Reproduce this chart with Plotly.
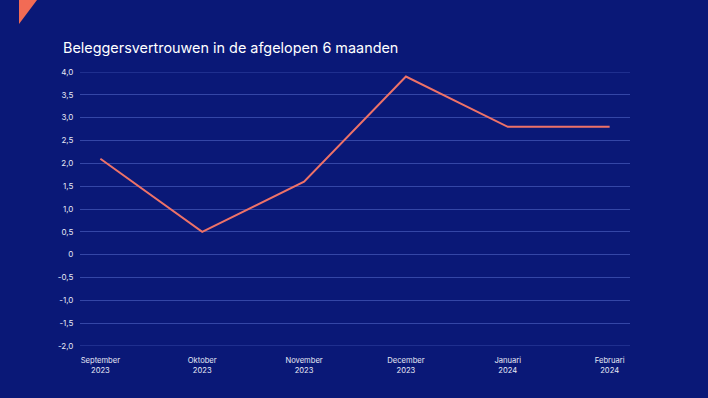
import plotly.graph_objects as go

months = ["September<br>2023", "Oktober<br>2023", "November<br>2023",
          "December<br>2023", "Januari<br>2024", "Februari<br>2024"]
values = [2.1, 0.5, 1.6, 3.9, 2.8, 2.8]
tick_vals = [-2.0, -1.5, -1.0, -0.5, 0, 0.5, 1.0, 1.5, 2.0, 2.5, 3.0, 3.5, 4.0]
tick_text = ["-2,0", "-1,5", "-1,0", "-0,5", "0", "0,5", "1,0", "1,5", "2,0", "2,5", "3,0", "3,5", "4,0"]

BG = "#0a1877"
GRID = "#3446a6"
W, H = 708, 398
ml, mr, mt, mb = 80, 78, 72, 52
pw, ph = W - ml - mr, H - mt - mb

def px(x):
    return (x - ml) / pw

def py(y):
    return (H - mb - y) / ph

fig = go.Figure()
fig.add_trace(go.Scatter(
    x=list(range(len(months))), y=values, mode="lines",
    line=dict(color="#ee7268", width=2), hoverinfo="skip",
))

fig.update_layout(
    width=W, height=H,
    margin=dict(l=ml, r=mr, t=mt, b=mb),
    paper_bgcolor=BG, plot_bgcolor=BG,
    showlegend=False,
    font=dict(family="Inter, sans-serif", color="#ffffff"),
    title=dict(text="Beleggersvertrouwen in de afgelopen 6 maanden",
               x=63 / W, xanchor="left", y=1 - 48 / H, yanchor="middle",
               font=dict(size=14.4, color="#ffffff")),
    xaxis=dict(
        tickmode="array", tickvals=list(range(len(months))), ticktext=months,
        range=[-0.2, 5.2], showgrid=False, zeroline=False, showline=False,
        tickfont=dict(size=7.6, color="#e6e8f5"),
        ticks="outside", ticklen=7, tickcolor=BG,
    ),
    yaxis=dict(
        tickmode="array", tickvals=tick_vals, ticktext=tick_text,
        range=[-2.0, 4.0], showgrid=True, gridcolor=GRID, gridwidth=1,
        zeroline=False, showline=False,
        tickfont=dict(size=8, color="#e6e8f5"),
        ticks="outside", ticklen=4, tickcolor=BG,
    ),
    shapes=[
        dict(type="line", xref="paper", yref="y", x0=0, x1=1,
             y0=tick_vals[0], y1=tick_vals[0],
             line=dict(color=GRID, width=1), layer="below"),
        dict(type="line", xref="paper", yref="y", x0=0, x1=1,
             y0=tick_vals[-1], y1=tick_vals[-1],
             line=dict(color=GRID, width=1), layer="below"),
        dict(type="path", xref="paper", yref="paper",
             path=f"M {px(19)} {py(0)} L {px(37)} {py(0)} L {px(19)} {py(24)} Z",
             fillcolor="#f26b55", line=dict(width=0), layer="above"),
    ],
)

fig.write_html("out.html", config={"displayModeBar": False},
               post_script="document.body.style.margin='0';document.body.style.background='%s';" % BG)
